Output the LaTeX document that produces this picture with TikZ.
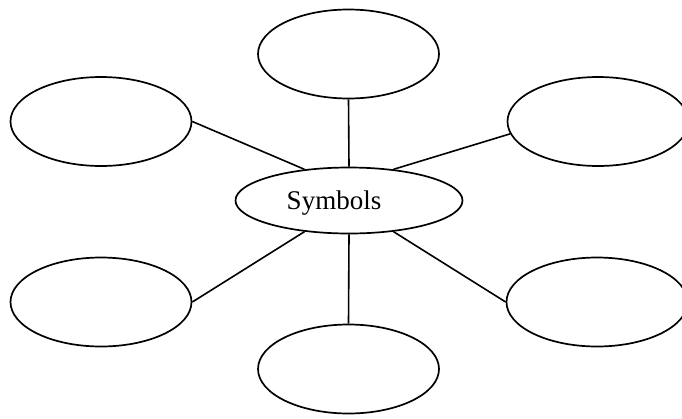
\documentclass[tikz,border=0pt]{standalone}
\usepackage{fontspec}
\setmainfont{Liberation Serif}
\usetikzlibrary{shapes.geometric}
\tikzset{
  bubble/.style={ellipse, draw, line width=1.7pt, inner sep=0pt,
                 minimum width=181pt, minimum height=89pt},
  hub/.style={ellipse, draw, line width=1.7pt, inner sep=0pt,
              minimum width=227pt, minimum height=66pt},
  spoke/.style={line width=1.6pt},
  hublabel/.style={inner sep=0pt, anchor=base, font=\fontsize{27pt}{30pt}\selectfont}
}
\begin{document}
\begin{tikzpicture}[x=1pt, y=-1pt]
  \useasboundingbox (0,0) rectangle (682,418);

  % central bubble and its label
  \node[hub] (c) at (349,200.5) {};
  \node[hublabel] (lbl) at (334,209) {Symbols};

  % surrounding empty bubbles
  \node[bubble] (t)  at (348.5,54) {};
  \node[bubble] (tl) at (101,121.5) {};
  \node[bubble] (tr) at (598,121.5) {};
  \node[bubble] (bl) at (101,302) {};
  \node[bubble] (br) at (597,302) {};
  \node[bubble] (b)  at (348.5,369) {};

  % spokes from the hub to each bubble
  \draw[spoke] (c.north) -- (t.south);
  \draw[spoke] (c.south) -- (b.north);
  \draw[spoke] (c.145) -- (tl.east);
  \draw[spoke] (c.35)  -- (tr.188);
  \draw[spoke] (c.215) -- (bl.east);
  \draw[spoke] (c.325) -- (br.west);
\end{tikzpicture}
\end{document}
